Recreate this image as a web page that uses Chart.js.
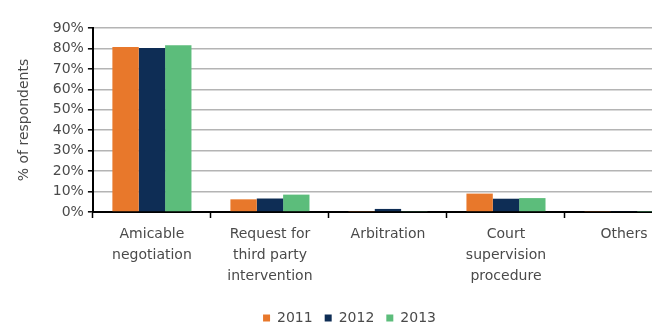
<!DOCTYPE html>
<html>
<head>
<meta charset="utf-8">
<script src="https://cdn.jsdelivr.net/npm/chart.js@4/dist/chart.umd.min.js"></script>
<style>
  html, body { margin: 0; padding: 0; background: #fff; overflow: hidden; }
  #wrap { width: 692px; height: 325px; }
</style>
</head>
<body>
<div id="wrap"><canvas id="barChart"></canvas></div>
<script>
// data (% of respondents)
const categories = [
    ['Amicable', 'negotiation'],
    ['Request for', 'third party', 'intervention'],
    'Arbitration',
    ['Court', 'supervision', 'procedure'],
    'Others'
];
const years = ['2011', '2012', '2013'];
const values2011 = [80.7, 6.2, 0.5, 9.0, 0.5];
const values2012 = [80.2, 6.6, 1.5, 6.5, 0.5];
const values2013 = [81.6, 8.5, 0.3, 6.8, 0.2];
const yTicks = [0, 10, 20, 30, 40, 50, 60, 70, 80, 90];

const colours = ['#e8782b', '#0e2d55', '#5cbd7b'];
const textColour = '#4a4a4a';
const font = { family: '"DejaVu Sans", sans-serif', size: 14 };

const barData = {
    labels: categories,
    datasets: [values2011, values2012, values2013].map(function(vals, i) {
        return {
            label: years[i],
            data: vals,
            backgroundColor: colours[i],
            borderWidth: 0,
            categoryPercentage: 0.67,
            barPercentage: 1.0
        };
    })
};

const barConfig = {
    type: 'bar',
    data: barData,
    options: {
        responsive: true,
        maintainAspectRatio: false,
        animation: false,
        layout: { padding: { top: 28, left: 16, right: 9, bottom: -10 } },
        plugins: {
            tooltip: { enabled: false },
            legend: {
                position: 'bottom',
                labels: {
                    boxWidth: 7,
                    boxHeight: 7,
                    padding: 12,
                    color: textColour,
                    font: font
                }
            }
        },
        scales: {
            x: {
                afterFit: function(scale) {
                    // room between the category labels and the legend
                    scale.height = 87;
                },
                grid: {
                    offset: true,
                    drawOnChartArea: false,
                    tickLength: 6,
                    tickColor: '#000',
                    tickWidth: 1.5
                },
                border: { color: '#000', width: 2 },
                ticks: {
                    color: textColour,
                    font: { family: font.family, size: 14, lineHeight: 1.5 },
                    maxRotation: 0,
                    autoSkip: false,
                    padding: 6
                }
            },
            y: {
                min: 0,
                max: 90,
                afterBuildTicks: function(axis) {
                    axis.ticks = yTicks.map(function(v) { return { value: v }; });
                },
                grid: {
                    color: '#b4b4b4',
                    lineWidth: 1.6,
                    tickLength: 5,
                    tickColor: '#000',
                    tickWidth: 1.5
                },
                border: { color: '#000', width: 2 },
                ticks: {
                    color: textColour,
                    font: font,
                    padding: 4,
                    autoSkip: false,
                    callback: function(v) { return v + '%'; }
                },
                title: {
                    display: true,
                    text: '% of respondents',
                    color: textColour,
                    font: font,
                    padding: { top: 0, bottom: 16 }
                }
            }
        }
    }
};

const barChart = new Chart(document.getElementById('barChart'), barConfig);
</script>
</body>
</html>
